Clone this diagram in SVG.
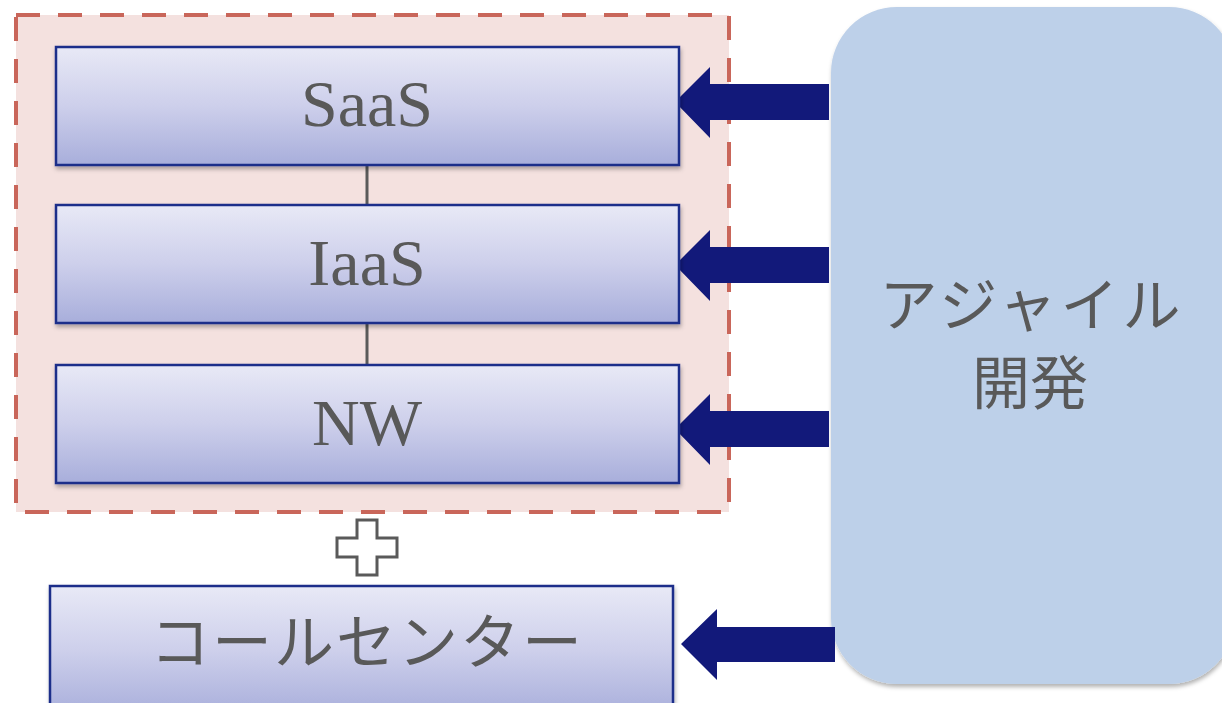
<svg xmlns="http://www.w3.org/2000/svg" width="1222" height="703" viewBox="0 0 1222 703">
<defs>
<linearGradient id="boxGrad" x1="0" y1="0" x2="0" y2="1">
<stop offset="0" stop-color="#e8e9f6"/>
<stop offset="0.5" stop-color="#cdcfeb"/>
<stop offset="1" stop-color="#a8aedb"/>
</linearGradient>
<filter id="shadow" x="-10%" y="-10%" width="120%" height="130%">
<feDropShadow dx="1" dy="3" stdDeviation="2" flood-color="#000" flood-opacity="0.3"/>
</filter>
</defs>
<style>
.box{fill:url(#boxGrad);stroke:#1a2f8a;stroke-width:2.5;filter:url(#shadow)}
.lbl{font-family:"Liberation Serif","Noto Sans CJK JP",serif;fill:#595959;text-anchor:middle}
.jp{font-family:"Noto Sans CJK JP",sans-serif;fill:#595959;text-anchor:middle;font-weight:400}
.arrow{fill:#12197a}
.link{stroke:#5a5a5a;stroke-width:3}
</style>
<rect x="16" y="15" width="713" height="497" fill="#f4e1df" stroke="#c9665a" stroke-width="4" stroke-dasharray="24 18"/>
<g id="agile">
<rect x="831" y="7" width="404" height="677" rx="66" ry="66" fill="#bdd0e9" filter="url(#shadow)"/>
<text class="jp" x="1032" y="326" font-size="58" letter-spacing="4">アジャイル</text>
<text class="jp" x="1030" y="404" font-size="58">開発</text>
</g>
<g id="connectors">
<line class="link" x1="367" y1="165" x2="367" y2="205"/>
<line class="link" x1="367" y1="323" x2="367" y2="365"/>
<polygon class="arrow" points="829,84 710,84 710,67 675,102 710,138 710,120 829,120"/>
<polygon class="arrow" points="829,247 710,247 710,230 675,265 710,301 710,283 829,283"/>
<polygon class="arrow" points="829,411 710,411 710,394 675,429 710,465 710,447 829,447"/>
<polygon class="arrow" points="835,627 717,627 717,609 681,644 717,680 717,662 835,662"/>
</g>
<g id="saas">
<rect class="box" x="56" y="47" width="623" height="118"/>
<text class="lbl" x="367" y="126" font-size="66">SaaS</text>
</g>
<g id="iaas">
<rect class="box" x="56" y="205" width="623" height="118"/>
<text class="lbl" x="367" y="285" font-size="66">IaaS</text>
</g>
<g id="nw">
<rect class="box" x="56" y="365" width="623" height="118"/>
<text class="lbl" x="367" y="445" font-size="66">NW</text>
</g>
<g id="plus">
<polygon points="357,520 377,520 377,538 397,538 397,557 377,557 377,575 357,575 357,557 337,557 337,538 357,538" fill="#fff" stroke="#5a5a5a" stroke-width="3"/>
</g>
<g id="callcenter">
<rect class="box" x="50" y="586" width="623" height="130"/>
<text class="jp" x="367" y="664" font-size="60" letter-spacing="2">コールセンター</text>
</g>
</svg>
